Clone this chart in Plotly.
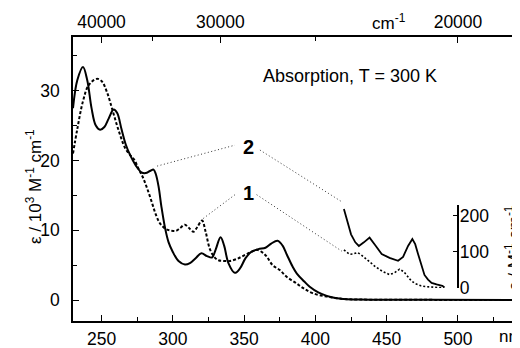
import plotly.graph_objects as go

# ---- data ----
# compound 2 (solid line), main spectrum, eps / 10^3 M^-1 cm^-1
wl2 = [230, 233, 237, 240, 243, 246, 249, 252, 255, 258.5, 261, 264, 267, 270, 274, 278, 281,
       284, 286.5, 288, 290, 292, 294.5, 297, 300, 304, 308.5, 312, 316, 320, 324, 327.5, 330,
       333.5, 336, 339, 343.5, 347, 351, 355, 360, 365, 369, 373.5, 377, 380, 384, 387, 392,
       396, 402, 408, 415, 420, 430, 450, 480, 545]
eps2 = [27.5, 31.5, 33.4, 31.5, 27.5, 25.0, 24.4, 24.8, 26.0, 27.3, 26.8, 24.5, 22.3, 20.8, 19.3,
        18.3, 18.2, 18.5, 18.7, 18.1, 16.3, 13.4, 10.4, 8.3, 6.9, 5.6, 5.1, 5.3, 6.0, 6.7, 6.3,
        6.1, 7.2, 9.0, 7.8, 5.3, 3.9, 4.5, 6.0, 6.9, 7.3, 7.5, 8.1, 8.5, 7.8, 6.5, 4.8, 3.8, 2.7,
        1.9, 1.1, 0.6, 0.25, 0.15, 0.08, 0.05, 0.03, 0.0]

# compound 1 (dashed line), main spectrum
wl1 = [230, 233, 237, 241, 246.5, 250, 254, 258, 262, 266.5, 270, 273, 276, 279, 282, 285, 288,
       291, 295, 298, 302, 305, 308.5, 311, 314.5, 317, 320.5, 323, 326, 329, 332, 336, 340, 345,
       350, 355, 359, 363, 366, 370, 375, 380, 386, 391.5, 398, 408, 420, 430, 450, 545]
eps1 = [21.0, 24.5, 28.5, 30.8, 31.7, 31.4, 29.7, 27.0, 24.3, 21.8, 20.8, 20.1, 18.8, 17.6, 16.0,
        14.2, 12.3, 11.0, 10.2, 10.0, 9.9, 10.3, 10.8, 10.4, 9.8, 10.4, 11.4, 9.8, 7.3, 6.2, 5.7,
        5.6, 5.6, 5.9, 6.4, 6.9, 7.2, 6.8, 6.2, 5.0, 4.3, 3.3, 2.5, 1.7, 1.0, 0.5, 0.15, 0.08,
        0.05, 0.0]

# inset (eps / M^-1 cm^-1)
wl2_ins = [420, 422, 425, 428, 430.5, 434, 438, 442, 446.5, 452, 458, 461.5, 465, 468, 470, 472,
           474.5, 476.5, 479, 481.5, 485, 487.5, 489, 490.5]
eps2_ins = [218, 191, 148, 126, 116, 126, 139, 118, 94, 83, 75, 86, 116, 135, 121, 94, 62, 36,
            23, 14, 10, 8, 6, 2]
wl1_ins = [420, 422, 424, 426.5, 429.5, 432, 435, 438, 442, 447, 452, 455.5, 459, 462, 464.5,
           467, 470, 474, 477, 482, 486, 489, 490.5]
eps1_ins = [105, 99, 93, 94, 98, 92, 82, 70, 59, 46, 37, 42, 52, 45, 34, 21, 12, 6, 4, 2, 1, 0, 0]

# top axis (wavenumber, cm^-1)
wn_major = [40000, 30000, 20000]
wn_minor = [35000, 25000]

# ---- layout helpers (page pixel coordinates; the page body has an 8px margin) ----
OFF = 8
PAGE_W, PAGE_H = 520, 348
W, H = PAGE_W - OFF, PAGE_H - OFF
L, T, R, B = 73, 37, 520, 321
XR = [230, 543.5]
YR = [-3.0, 37.7]
FONT = "Arial, Liberation Sans, sans-serif"


def px(x):
    return (x - L) / (R - L)


def py(y):
    return (B - y) / (B - T)


fig = go.Figure()

fig.add_trace(go.Scatter(x=wl1, y=eps1, mode="lines", line=dict(color="black", width=2, dash="3px,2px"),
                         line_shape="spline", hoverinfo="skip", showlegend=False))
fig.add_trace(go.Scatter(x=wl2, y=eps2, mode="lines", line=dict(color="black", width=2),
                         line_shape="spline", hoverinfo="skip", showlegend=False))
fig.add_trace(go.Scatter(x=wl1_ins, y=eps1_ins, yaxis="y2", mode="lines",
                         line=dict(color="black", width=1.6, dash="2px,2px"),
                         hoverinfo="skip", showlegend=False))
fig.add_trace(go.Scatter(x=wl2_ins, y=eps2_ins, yaxis="y2", mode="lines",
                         line=dict(color="black", width=1.8),
                         hoverinfo="skip", showlegend=False))
# invisible trace to activate the top axis
fig.add_trace(go.Scatter(x=[1e7 / w for w in wn_major], y=[0] * len(wn_major), xaxis="x2",
                         mode="markers", marker=dict(opacity=0), hoverinfo="skip", showlegend=False))

# connector lines (dotted)
dot = dict(color="#333333", width=1, dash="1px,2.5px")
connectors = [
    (289, 19.2, 343.6, 22.2),
    (361.1, 21.5, 418.4, 14.1),
    (321.4, 11.7, 343.6, 15.1),
    (358.8, 15.1, 418.6, 7.0),
]
for x0, y0, x1, y1 in connectors:
    fig.add_shape(type="line", xref="x", yref="y", x0=x0, y0=y0, x1=x1, y1=y1, line=dot)

tickfont = dict(family=FONT, size=17.5, color="black")

fig.update_layout(
    template="none",
    width=W, height=H,
    margin=dict(l=L - OFF, r=PAGE_W - R, t=T - OFF, b=PAGE_H - B, pad=0, autoexpand=False),
    paper_bgcolor="white", plot_bgcolor="rgba(0,0,0,0)",
    font=dict(family=FONT, color="black"),
    xaxis=dict(range=XR, automargin=False, showgrid=False, zeroline=False, showline=True,
               linecolor="black", linewidth=1.5, ticks="inside", ticklen=6, tickwidth=1.3,
               tickcolor="black", tick0=0, dtick=50, tickfont=tickfont, ticklabelstandoff=1,
               minor=dict(dtick=25, ticks="inside", ticklen=4, tickwidth=1.3, tickcolor="black",
                          showgrid=False),
               anchor="y"),
    xaxis2=dict(range=XR, automargin=False, overlaying="x", side="top", anchor="y", showgrid=False,
                zeroline=False, showline=True, linecolor="black", linewidth=1.5, ticks="inside",
                ticklen=6, tickwidth=1.3, tickcolor="black", tickmode="array",
                tickvals=[1e7 / w for w in wn_major], ticktext=[str(w) for w in wn_major],
                tickfont=tickfont, ticklabelstandoff=0,
                minor=dict(tickmode="array", tickvals=[1e7 / w for w in wn_minor], ticks="inside",
                           ticklen=4, tickwidth=1.3, tickcolor="black", showgrid=False)),
    yaxis=dict(range=YR, automargin=False, showgrid=False, zeroline=False, showline=True,
               linecolor="black", linewidth=1.5, ticks="inside", ticklen=6, tickwidth=1.3,
               tickcolor="black", tick0=0, dtick=10, tickfont=tickfont, ticklabelstandoff=8,
               minor=dict(dtick=5, ticks="inside", ticklen=4, tickwidth=1.3, tickcolor="black",
                          showgrid=False)),
    yaxis2=dict(range=[0, 229], automargin=False, domain=[py(288), py(205)], anchor="free",
                position=px(457.5), side="right", showgrid=False, zeroline=False, showline=True,
                linecolor="black", linewidth=1.5, ticks="inside", ticklen=4, tickwidth=1.3,
                tickcolor="black", tickmode="array", tickvals=[0, 100, 200], tickfont=tickfont,
                ticklabelstandoff=-2),
)

ann = [
    dict(text="Absorption, T = 300 K", x=px(350), y=py(76), size=18),
    dict(text="<b>2</b>", x=px(248), y=py(146.7), size=20),
    dict(text="<b>1</b>", x=px(248.3), y=py(193.3), size=20),
    dict(text="cm<sup>-1</sup>", x=px(389), y=py(22), size=17),
]
for a in ann:
    fig.add_annotation(text=a["text"], xref="paper", yref="paper", x=a["x"], y=a["y"],
                       xanchor="center", yanchor="middle", showarrow=False,
                       font=dict(family=FONT, size=a["size"], color="black"))

fig.add_annotation(text="nm", xref="paper", yref="paper", x=px(497), y=py(336), xanchor="left",
                   yanchor="middle", showarrow=False, font=dict(family=FONT, size=17, color="black"))
fig.add_annotation(text="ε / 10<sup>3</sup> M<sup>-1</sup> cm<sup>-1</sup>", xref="paper", yref="paper",
                   x=px(34), y=py(187), xanchor="center", yanchor="middle", textangle=-90,
                   showarrow=False, font=dict(family=FONT, size=17, color="black"))
fig.add_annotation(text="ε / M<sup>-1</sup> cm<sup>-1</sup>", xref="paper", yref="paper",
                   x=px(513), y=py(248), xanchor="center", yanchor="middle", textangle=-90,
                   showarrow=False, font=dict(family=FONT, size=17, color="black"))

fig.write_html("out.html")
